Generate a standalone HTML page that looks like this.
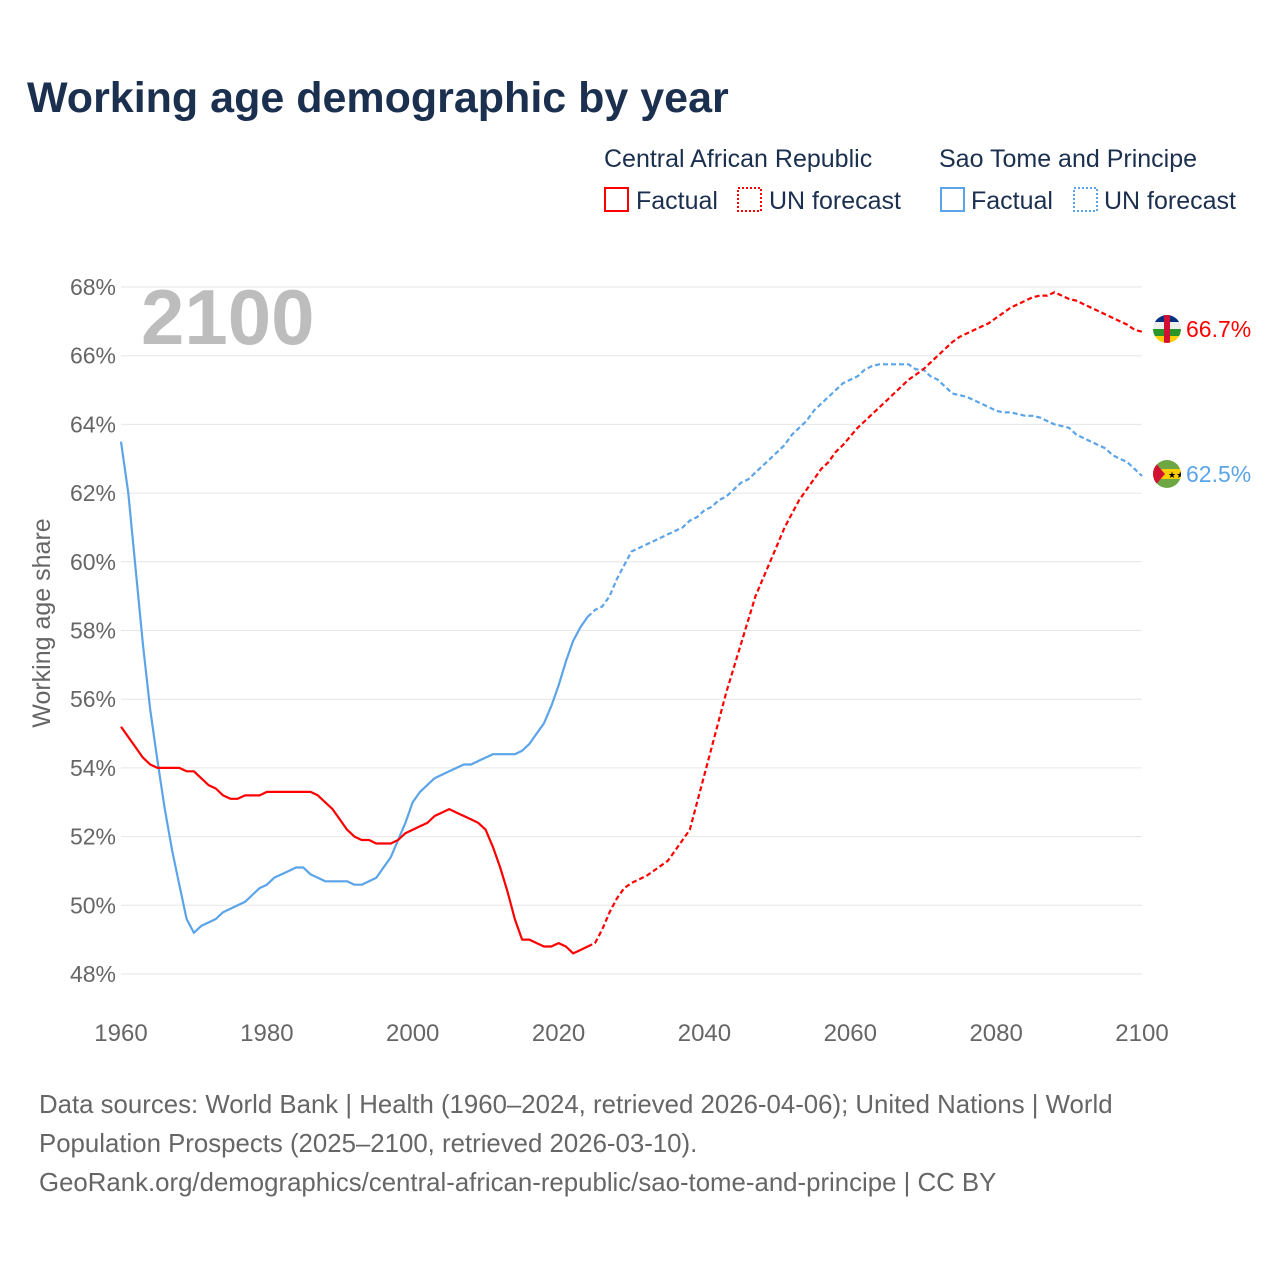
<!DOCTYPE html>
<html><head><meta charset="utf-8"><style>
body{margin:0;background:#fff;}
svg text{font-family:"Liberation Sans",sans-serif;}
</style></head><body>
<svg id="chart" width="1280" height="1280" xmlns="http://www.w3.org/2000/svg">
<defs>
<clipPath id="fc1"><circle cx="1167" cy="329" r="14"/></clipPath>
<clipPath id="fc2"><circle cx="1167" cy="474" r="14"/></clipPath>
</defs>
<text x="27" y="112" font-size="43" font-weight="bold" fill="#1b2f4f">Working age demographic by year</text>
<g font-size="25" fill="#1b2f4f">
<text x="604" y="167" fill="#1b2f4f">Central African Republic</text>
<text x="939" y="167" fill="#1b2f4f">Sao Tome and Principe</text>
<rect x="605" y="188" width="23" height="23" fill="none" stroke="#f00" stroke-width="2"/>
<text x="636" y="209" fill="#1b2f4f">Factual</text>
<rect x="738" y="188" width="23" height="23" fill="none" stroke="#f00" stroke-width="2" stroke-dasharray="2,2"/>
<text x="769" y="209" fill="#1b2f4f">UN forecast</text>
<rect x="941" y="188" width="23" height="23" fill="none" stroke="#5ba4e8" stroke-width="2"/>
<text x="971" y="209" fill="#1b2f4f">Factual</text>
<rect x="1074" y="188" width="23" height="23" fill="none" stroke="#5ba4e8" stroke-width="2" stroke-dasharray="2,2"/>
<text x="1104" y="209" fill="#1b2f4f">UN forecast</text>
</g>
<g id="grid"></g>
<text x="141" y="344" font-size="78" font-weight="bold" fill="#bdbdbd">2100</text>
<text transform="translate(50,623) rotate(-90)" text-anchor="middle" font-size="25" fill="#666">Working age share</text>
<g id="series"></g>
<g clip-path="url(#fc1)">
<rect x="1153" y="315" width="28" height="7" fill="#003082"/><rect x="1153" y="322" width="28" height="7" fill="#eee"/><rect x="1153" y="329" width="28" height="7" fill="#289728"/><rect x="1153" y="336" width="28" height="8" fill="#ffce00"/><rect x="1164" y="315" width="6" height="29" fill="#d21034"/>
</g>
<g clip-path="url(#fc2)">
<rect x="1153" y="460" width="28" height="28" fill="#6ca744"/><rect x="1153" y="469" width="28" height="10" fill="#ffce00"/><polygon points="1153,460 1165,474 1153,488" fill="#d21034"/>
<text x="1168" y="478" font-size="9" fill="#000">★★</text>
</g>
<text x="1186" y="337" font-size="23" fill="#f00">66.7%</text>
<text x="1186" y="482" font-size="23" fill="#5ba4e8">62.5%</text>
<g font-size="25.8" fill="#666">
<text x="39" y="1113">Data sources: World Bank | Health (1960–2024, retrieved 2026-04-06); United Nations | World</text>
<text x="39" y="1152">Population Prospects (2025–2100, retrieved 2026-03-10).</text>
<text x="39" y="1191">GeoRank.org/demographics/central-african-republic/sao-tome-and-principe | CC BY</text>
</g>
</svg>
<script>
const yTicks=[48,50,52,54,56,58,60,62,64,66,68];
const xTicks=[1960,1980,2000,2020,2040,2060,2080,2100];
const carFactual=[55.2,54.9,54.6,54.3,54.1,54.0,54.0,54.0,54.0,53.9,53.9,53.7,53.5,53.4,53.2,53.1,53.1,53.2,53.2,53.2,53.3,53.3,53.3,53.3,53.3,53.3,53.3,53.2,53.0,52.8,52.5,52.2,52.0,51.9,51.9,51.8,51.8,51.8,51.9,52.1,52.2,52.3,52.4,52.6,52.7,52.8,52.7,52.6,52.5,52.4,52.2,51.7,51.1,50.4,49.6,49.0,49.0,48.9,48.8,48.8,48.9,48.8,48.6,48.7,48.8];
const carForecast=[48.9,49.3,49.8,50.2,50.5,50.65,50.75,50.85,51.0,51.15,51.3,51.6,51.9,52.2,53.0,53.8,54.6,55.4,56.2,56.9,57.6,58.3,59.0,59.5,60.0,60.5,61.0,61.4,61.8,62.1,62.4,62.7,62.9,63.2,63.4,63.65,63.9,64.1,64.3,64.5,64.7,64.9,65.1,65.3,65.45,65.6,65.8,66.0,66.2,66.4,66.55,66.65,66.75,66.85,66.95,67.1,67.25,67.4,67.5,67.6,67.7,67.75,67.75,67.85,67.75,67.65,67.6,67.5,67.4,67.3,67.2,67.1,67.0,66.9,66.75,66.7];
const stpFactual=[63.5,62.0,59.8,57.6,55.7,54.2,52.8,51.6,50.6,49.6,49.2,49.4,49.5,49.6,49.8,49.9,50.0,50.1,50.3,50.5,50.6,50.8,50.9,51.0,51.1,51.1,50.9,50.8,50.7,50.7,50.7,50.7,50.6,50.6,50.7,50.8,51.1,51.4,51.9,52.4,53.0,53.3,53.5,53.7,53.8,53.9,54.0,54.1,54.1,54.2,54.3,54.4,54.4,54.4,54.4,54.5,54.7,55.0,55.3,55.8,56.4,57.1,57.7,58.1,58.4];
const stpForecast=[58.6,58.7,59.0,59.5,59.9,60.3,60.4,60.5,60.6,60.7,60.8,60.9,61.0,61.2,61.3,61.5,61.6,61.8,61.9,62.1,62.3,62.4,62.6,62.8,63.0,63.2,63.4,63.7,63.9,64.1,64.4,64.6,64.8,65.0,65.2,65.3,65.4,65.6,65.7,65.75,65.75,65.75,65.75,65.75,65.6,65.6,65.4,65.3,65.1,64.9,64.85,64.8,64.7,64.6,64.5,64.4,64.35,64.35,64.3,64.25,64.25,64.2,64.1,64.0,63.95,63.9,63.7,63.6,63.5,63.4,63.3,63.1,63.0,62.9,62.7,62.5];
const NS="http://www.w3.org/2000/svg";
const X0=121,X1=1142,Y0=974,Y1=287;
function xs(yr){return X0+(yr-1960)/(2100-1960)*(X1-X0);}
function ys(v){return Y0-(v-48)/(68-48)*(Y0-Y1);}
const grid=document.getElementById('grid');
yTicks.forEach(t=>{
  const l=document.createElementNS(NS,'line');
  
  
  l.setAttribute('x1',X0);l.setAttribute('x2',X1);l.setAttribute('y1',ys(t));l.setAttribute('y2',ys(t));
  l.setAttribute('stroke','#e6e6e6');l.setAttribute('stroke-width','1');
  grid.appendChild(l);
  const tx=document.createElementNS(NS,'text');
  
  
  tx.setAttribute('x',116);tx.setAttribute('y',ys(t)+8);tx.setAttribute('text-anchor','end');
  tx.setAttribute('font-size','23');tx.setAttribute('fill','#666');tx.textContent=t+'%';
  grid.appendChild(tx);
});
xTicks.forEach(t=>{
  const tx=document.createElementNS(NS,'text');
  
  
  tx.setAttribute('x',xs(t));tx.setAttribute('y',1041);tx.setAttribute('text-anchor','middle');
  tx.setAttribute('font-size','24');tx.setAttribute('fill','#666');tx.textContent=t;
  grid.appendChild(tx);
});
const sg=document.getElementById('series');
function draw(arr,start,color,dash,name){
  const p=document.createElementNS(NS,'path');
  
  
  p.setAttribute('d',arr.map((v,i)=>(i?'L':'M')+xs(start+i).toFixed(1)+','+ys(v).toFixed(1)).join(''));
  p.setAttribute('fill','none');p.setAttribute('stroke',color);p.setAttribute('stroke-width','2.2');
  p.setAttribute('stroke-linejoin','round');
  if(dash)p.setAttribute('stroke-dasharray','5,3');
  sg.appendChild(p);
}
draw(stpFactual,1960,'#5ba4e8',false,'stp-factual-line');
draw([stpFactual[stpFactual.length-1]].concat(stpForecast),2024,'#5ba4e8',true,'stp-forecast-line');
draw(carFactual,1960,'#ff0000',false,'car-factual-line');
draw([carFactual[carFactual.length-1]].concat(carForecast),2024,'#ff0000',true,'car-forecast-line');
</script>
</body></html>
